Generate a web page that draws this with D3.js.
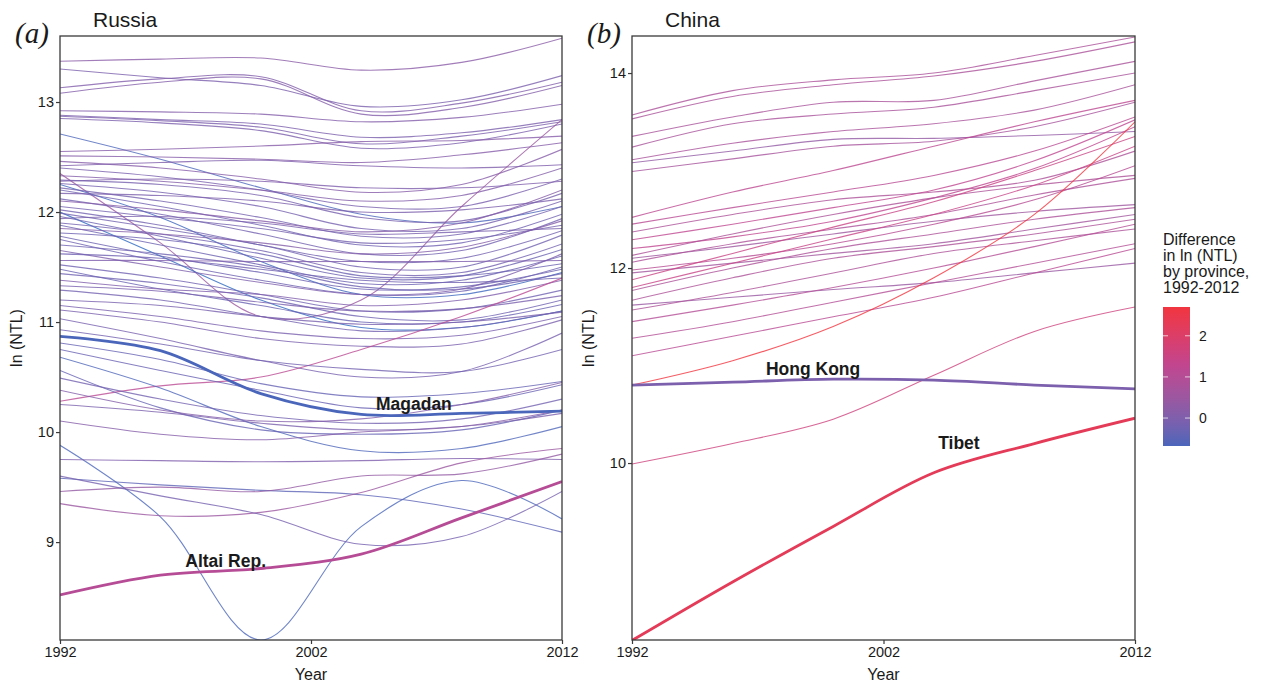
<!DOCTYPE html>
<html>
<head>
<meta charset="utf-8">
<script src="https://cdn.jsdelivr.net/npm/d3@7"></script>
<style>
  body { margin: 0; background: #fff; }
  text { font-family: "Liberation Sans", Arial, sans-serif; fill: #1a1a1a; }
</style>
</head>
<body>
<div class="chart"></div>
<script>
// Data: ln(NTL) at a few sample years
var years = [1992, 1996, 2000, 2004, 2008, 2012];
var yearTicks = [1992, 2002, 2012];

var russiaTicks = [9, 10, 11, 12, 13];
var russiaLimits = [8.11, 13.6];
var chinaTicks = [10, 12, 14];
var chinaLimits = [8.185, 14.38];

var legendTicks = [0, 1, 2];
var legendLimits = [-0.68, 2.7];
var legendTitle = ["Difference", "in ln (NTL)", "by province,", "1992-2012"];

var russiaLines = [
  [13.37, 13.39, 13.40, 13.29, 13.36, 13.58],
  [13.30, 13.22, 13.15, 12.96, 13.02, 13.24],
  [13.13, 13.21, 13.23, 12.92, 12.99, 13.18],
  [13.08, 13.18, 13.21, 12.89, 12.95, 13.15],
  [12.92, 12.91, 12.89, 12.82, 12.86, 12.98],
  [12.88, 12.84, 12.80, 12.68, 12.72, 12.84],
  [12.87, 12.83, 12.77, 12.62, 12.69, 12.82],
  [12.85, 12.81, 12.74, 12.58, 12.63, 12.80],
  [12.71, 12.48, 12.22, 11.98, 11.90, 12.05],
  [12.55, 12.57, 12.60, 12.64, 12.65, 12.69],
  [12.51, 12.50, 12.48, 12.45, 12.52, 12.63],
  [12.46, 12.40, 12.30, 12.18, 12.25, 12.57],
  [12.42, 12.45, 12.47, 12.42, 12.40, 12.43],
  [12.40, 12.32, 12.20, 12.05, 12.05, 12.30],
  [12.33, 12.28, 12.20, 12.10, 12.15, 12.40],
  [12.28, 12.30, 12.28, 12.22, 12.22, 12.28],
  [12.35, 11.72, 11.05, 11.20, 12.05, 12.84],
  [12.29, 12.25, 12.15, 11.95, 11.92, 12.17],
  [12.26, 12.18, 12.05, 11.85, 11.85, 12.10],
  [12.25, 11.95, 11.55, 11.25, 11.25, 11.45],
  [12.22, 12.10, 11.95, 11.78, 11.80, 12.05],
  [12.20, 12.05, 11.88, 11.70, 11.72, 11.98],
  [12.17, 12.15, 12.10, 12.00, 12.02, 12.12],
  [12.12, 11.98, 11.80, 11.62, 11.65, 11.94],
  [12.10, 12.02, 11.92, 11.82, 11.90, 12.20],
  [12.05, 11.95, 11.85, 11.72, 11.75, 11.88],
  [12.02, 11.88, 11.70, 11.55, 11.58, 11.83],
  [12.00, 11.60, 11.20, 10.95, 10.95, 11.10],
  [11.99, 11.85, 11.70, 11.50, 11.50, 11.79],
  [11.96, 11.78, 11.58, 11.40, 11.42, 11.66],
  [11.94, 11.96, 11.90, 11.80, 11.82, 11.85],
  [11.90, 11.80, 11.65, 11.45, 11.45, 11.71],
  [11.88, 11.70, 11.52, 11.35, 11.38, 11.60],
  [11.85, 11.80, 11.72, 11.62, 11.68, 11.92],
  [11.81, 11.75, 11.62, 11.42, 11.42, 11.53],
  [11.78, 11.60, 11.45, 11.30, 11.32, 11.48],
  [11.75, 11.55, 11.38, 11.25, 11.28, 11.50],
  [11.70, 11.62, 11.50, 11.32, 11.30, 11.44],
  [11.65, 11.50, 11.36, 11.25, 11.30, 11.62],
  [11.62, 11.58, 11.48, 11.38, 11.36, 11.40],
  [11.56, 11.56, 11.55, 11.55, 11.55, 11.56],
  [11.52, 11.40, 11.25, 11.10, 11.12, 11.29],
  [11.48, 11.30, 11.15, 11.00, 11.00, 11.16],
  [11.44, 11.35, 11.22, 11.05, 11.02, 11.20],
  [11.38, 11.30, 11.25, 11.15, 11.20, 11.38],
  [11.33, 11.28, 11.18, 11.10, 11.12, 11.24],
  [11.29, 11.20, 11.05, 10.92, 10.95, 11.10],
  [11.20, 11.15, 11.05, 10.98, 11.00, 11.09],
  [11.15, 11.05, 10.92, 10.85, 10.88, 11.05],
  [11.11, 11.00, 10.85, 10.78, 10.80, 11.02],
  [11.03, 10.85, 10.65, 10.50, 10.55, 10.90],
  [10.28, 10.42, 10.50, 10.75, 11.05, 11.40],
  [10.93, 10.80, 10.65, 10.57, 10.55, 10.75],
  [10.81, 10.66, 10.44, 10.32, 10.35, 10.46],
  [10.75, 10.56, 10.38, 10.22, 10.25, 10.43],
  [10.68, 10.40, 10.05, 9.83, 9.85, 10.05],
  [10.56, 10.22, 10.02, 9.98, 10.02, 10.20],
  [10.49, 10.30, 10.15, 10.08, 10.12, 10.30],
  [10.38, 10.20, 10.10, 10.12, 10.25, 10.45],
  [10.25, 10.18, 10.08, 10.02, 10.05, 10.17],
  [10.10, 9.98, 9.93, 10.00, 10.05, 10.20],
  [9.88, 9.23, 8.11, 9.14, 9.56, 9.21],
  [9.75, 9.74, 9.73, 9.74, 9.76, 9.75],
  [9.58, 9.52, 9.47, 9.43, 9.30, 9.09],
  [9.46, 9.50, 9.46, 9.60, 9.62, 9.80],
  [9.35, 9.24, 9.27, 9.45, 9.72, 9.85],
  [9.60, 9.42, 9.25, 8.98, 9.05, 9.46]
];
var magadan = [10.87, 10.74, 10.35, 10.16, 10.17, 10.19];
var altai = [8.52, 8.70, 8.76, 8.89, 9.22, 9.55];

var chinaLines = [
  [13.57, 13.82, 13.93, 14.00, 14.18, 14.37],
  [13.53, 13.76, 13.88, 13.97, 14.12, 14.32],
  [13.35, 13.55, 13.70, 13.72, 13.92, 14.12],
  [13.24, 13.48, 13.58, 13.65, 13.82, 14.00],
  [13.11, 13.28, 13.40, 13.48, 13.62, 13.88],
  [13.08, 13.20, 13.32, 13.33, 13.36, 13.40],
  [12.99, 13.12, 13.25, 13.30, 13.45, 13.70],
  [12.52, 12.78, 13.00, 13.25, 13.50, 13.72],
  [12.45, 12.62, 12.78, 12.95, 13.20, 13.55],
  [12.37, 12.55, 12.70, 12.78, 12.90, 13.20],
  [12.29, 12.45, 12.62, 12.80, 13.10, 13.52],
  [12.20, 12.32, 12.48, 12.72, 13.02, 13.45],
  [12.13, 12.35, 12.55, 12.72, 12.85, 12.95],
  [12.10, 12.22, 12.35, 12.48, 12.58, 12.65],
  [12.06, 12.25, 12.40, 12.55, 12.75, 12.92],
  [11.98, 12.10, 12.25, 12.45, 12.70, 13.05],
  [11.95, 12.05, 12.15, 12.25, 12.40, 12.55],
  [11.88, 12.15, 12.42, 12.68, 13.00, 13.35],
  [11.80, 12.05, 12.30, 12.55, 12.85, 13.25],
  [11.77, 12.00, 12.20, 12.35, 12.50, 12.62],
  [11.67, 11.90, 12.10, 12.22, 12.35, 12.50],
  [11.62, 11.70, 11.78, 11.85, 11.95, 12.05],
  [11.57, 11.75, 11.95, 12.15, 12.28, 12.40],
  [11.45, 11.62, 11.80, 12.00, 12.22, 12.45],
  [11.28, 11.45, 11.65, 11.85, 12.05, 12.25],
  [11.10, 11.30, 11.50, 11.70, 11.95, 12.20],
  [10.80, 11.05, 11.40, 11.90, 12.55, 13.50],
  [9.99, 10.20, 10.45, 10.90, 11.35, 11.60]
];
var hongKong = [10.80, 10.83, 10.86, 10.85, 10.80, 10.76];
var tibet = [8.18, 8.78, 9.35, 9.90, 10.20, 10.46];

// Step 0: page and colour scale
//= ================================
var svgWidth = 1265;
var svgHeight = 683;

var svg = d3.select(".chart")
  .append("svg")
  .attr("width", svgWidth)
  .attr("height", svgHeight);

// blue -> magenta -> red ramp, as in the colour bar
var colorScale = d3.scaleLinear()
  .domain([legendLimits[0], 1.3, legendLimits[1]])
  .range(["#4a66bb", "#c2458f", "#f1353f"])
  .interpolate(d3.interpolateLab);

function diff(d) { return d[d.length - 1] - d[0]; }

// Draw one panel: box, lines, axes, labels
function drawPanel(p) {
  var x = d3.scaleLinear().domain([1992, 2012]).range([p.left, p.right]);
  var y = d3.scaleLinear().domain(p.limits).range([p.bottom, p.top]);

  svg.append("clipPath").attr("id", p.id + "-clip")
    .append("rect")
    .attr("x", p.left).attr("y", p.top)
    .attr("width", p.right - p.left).attr("height", p.bottom - p.top);

  var line = d3.line()
    .x(function(d, i) { return x(years[i]); })
    .y(function(d) { return y(d); })
    .curve(d3.curveCatmullRom.alpha(0.5));

  var g = svg.append("g").attr("clip-path", "url(#" + p.id + "-clip)");

  g.selectAll("path.thin")
    .data(p.lines)
    .enter()
    .append("path")
    .attr("class", "thin")
    .attr("d", line)
    .attr("fill", "none")
    .attr("stroke", function(d) { return colorScale(diff(d)); })
    .attr("stroke-width", 1.1)
    .attr("stroke-opacity", 0.8);

  g.selectAll("path.bold")
    .data(p.bold)
    .enter()
    .append("path")
    .attr("class", "bold")
    .attr("d", function(d) { return line(d.values); })
    .attr("fill", "none")
    .attr("stroke", function(d) { return colorScale(diff(d.values)); })
    .attr("stroke-width", 2.8);

  // panel box
  svg.append("rect")
    .attr("x", p.left).attr("y", p.top)
    .attr("width", p.right - p.left).attr("height", p.bottom - p.top)
    .attr("fill", "none")
    .attr("stroke", "#3a3a3a")
    .attr("stroke-width", 1.3);

  var bottomAxis = d3.axisBottom(x).tickValues(yearTicks).tickFormat(d3.format("d"))
    .tickSize(4).tickPadding(3);
  var leftAxis = d3.axisLeft(y).tickValues(p.ticks).tickFormat(d3.format("d"))
    .tickSize(4).tickPadding(2);

  var xa = svg.append("g")
    .attr("transform", "translate(0," + p.bottom + ")")
    .call(bottomAxis);
  var ya = svg.append("g")
    .attr("transform", "translate(" + p.left + ",0)")
    .call(leftAxis);

  [xa, ya].forEach(function(a) {
    a.select(".domain").remove();
    a.selectAll(".tick line").attr("stroke", "#3a3a3a").attr("stroke-width", 1.2);
    a.selectAll(".tick text")
      .attr("fill", "#111")
      .style("font-size", "14.5px")
      .style("font-family", "'Liberation Sans', Arial, sans-serif");
  });

  // axis titles
  svg.append("text")
    .attr("x", (p.left + p.right) / 2)
    .attr("y", p.bottom + 40)
    .attr("text-anchor", "middle")
    .style("font-size", "16px")
    .text("Year");

  svg.append("text")
    .attr("transform", "translate(" + (p.left - 38) + "," + ((p.top + p.bottom) / 2) + ") rotate(-90)")
    .attr("text-anchor", "middle")
    .style("font-size", "16px")
    .text("ln (NTL)");

  // panel letter and title
  svg.append("text")
    .attr("x", p.left - 45)
    .attr("y", p.top + 7)
    .style("font-family", "'Liberation Serif', 'DejaVu Serif', serif")
    .style("font-style", "italic")
    .style("font-size", "29px")
    .text(p.letter);

  svg.append("text")
    .attr("x", p.left + 33)
    .attr("y", p.top - 9)
    .style("font-size", "21px")
    .text(p.title);

  // labels of the highlighted regions
  p.bold.forEach(function(b) {
    svg.append("text")
      .attr("x", x(b.at[0]))
      .attr("y", y(b.at[1]))
      .attr("text-anchor", "middle")
      .style("font-size", "17.5px")
      .style("font-weight", "bold")
      .attr("fill", "#000")
      .text(b.name);
  });
}

drawPanel({
  id: "russia", letter: "(a)", title: "Russia",
  left: 60, right: 562, top: 36, bottom: 640,
  limits: russiaLimits, ticks: russiaTicks, lines: russiaLines,
  bold: [
    { name: "Magadan", values: magadan, at: [2006.1, 10.2] },
    { name: "Altai Rep.", values: altai, at: [1998.6, 8.77] }
  ]
});

drawPanel({
  id: "china", letter: "(b)", title: "China",
  left: 632, right: 1135, top: 36, bottom: 640,
  limits: chinaLimits, ticks: chinaTicks, lines: chinaLines,
  bold: [
    { name: "Hong Kong", values: hongKong, at: [1999.2, 10.9] },
    { name: "Tibet", values: tibet, at: [2005.0, 10.14] }
  ]
});

// Step 1: colour bar legend
//= ================================
var legTop = 307, legBottom = 446, legLeft = 1163, legWidth = 27;
var legScale = d3.scaleLinear().domain(legendLimits).range([legBottom, legTop]);

var grad = svg.append("defs").append("linearGradient")
  .attr("id", "legend-grad")
  .attr("x1", 0).attr("y1", 1).attr("x2", 0).attr("y2", 0);

d3.range(0, 1.0001, 0.05).forEach(function(t) {
  grad.append("stop")
    .attr("offset", t)
    .attr("stop-color", colorScale(legendLimits[0] + t * (legendLimits[1] - legendLimits[0])));
});

svg.append("rect")
  .attr("x", legLeft).attr("y", legTop)
  .attr("width", legWidth).attr("height", legBottom - legTop)
  .attr("fill", "url(#legend-grad)");

legendTicks.forEach(function(t) {
  var ty = legScale(t);
  svg.append("line").attr("x1", legLeft).attr("x2", legLeft + 5)
    .attr("y1", ty).attr("y2", ty).attr("stroke", "#fff").attr("stroke-opacity", 0.7);
  svg.append("line").attr("x1", legLeft + legWidth - 5).attr("x2", legLeft + legWidth)
    .attr("y1", ty).attr("y2", ty).attr("stroke", "#fff").attr("stroke-opacity", 0.7);
  svg.append("text")
    .attr("x", legLeft + legWidth + 9)
    .attr("y", ty + 5)
    .style("font-size", "14px")
    .text(t);
});

svg.append("text")
  .attr("x", legLeft)
  .attr("y", 245)
  .style("font-size", "16px")
  .selectAll("tspan")
  .data(legendTitle)
  .enter()
  .append("tspan")
  .attr("x", legLeft)
  .attr("dy", function(d, i) { return i === 0 ? 0 : 16; })
  .text(function(d) { return d; });
</script>
</body>
</html>
